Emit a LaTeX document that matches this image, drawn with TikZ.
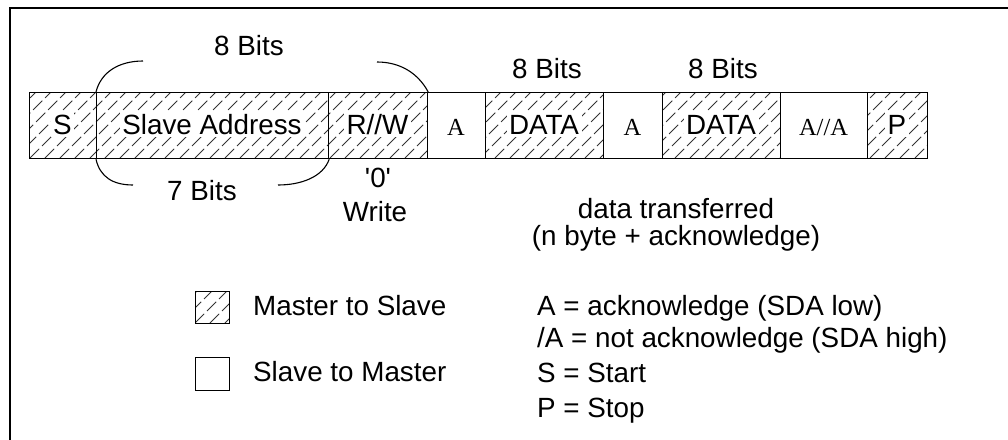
\documentclass[tikz,border=0pt]{standalone}
\usepackage{fontspec}
\setmainfont{Liberation Sans}
\newfontfamily\serifAfont{Liberation Serif}
\newcommand\hatchrect[4]{%
  \begin{scope}
    \clip (#1,#2) rectangle (#3,#4);
    \foreach \xx in {-90,-75,...,1000} {\draw[hatchline] (\xx,#4) -- ++(90,-90);}
  \end{scope}}
\begin{document}
\begin{tikzpicture}[x=1pt,y=-1pt,
  hatchline/.style={draw=black!80, line width=0.85pt, dash pattern=on 13pt off 4pt},
  cell/.style={draw=black, line width=1.2pt, rectangle, inner sep=0pt, anchor=north west, minimum height=66pt},
  lbl/.style={font=\fontsize{27.8}{34}\selectfont, inner sep=0pt, anchor=base},
  boxlbl/.style={lbl, fill=white, inner sep=2.5pt},
  slbl/.style={font=\serifAfont\fontsize{24.5}{28}\selectfont, inner sep=0pt, anchor=base},
  brace/.style={draw=black, line width=1.1pt},
  legbox/.style={draw=black, line width=1.2pt, rectangle, inner sep=0pt, anchor=north west, minimum width=34pt, minimum height=32pt}
]
\useasboundingbox (0,0) rectangle (1008,439);
% frame
\draw[line width=2pt] (1012,7.5) -- (10,7.5) -- (10,445);

% hatching
\hatchrect{29}{92}{96}{158}
\hatchrect{96}{92}{328}{158}
\hatchrect{328}{92}{427}{158}
\hatchrect{485}{92}{603}{158}
\hatchrect{662}{92}{780}{158}
\hatchrect{867}{92}{927}{158}
\hatchrect{195}{291}{229}{323}

% labels in cells
\node[boxlbl] (ts) at (62.5,134) {S};
\node[boxlbl] (tsa) at (212,134) {Slave Address};
\node[boxlbl] (trw) at (377.5,134) {R//W};
\node[slbl] (ta1) at (456,135) {A};
\node[boxlbl] (td1) at (544,134) {DATA};
\node[slbl] (ta2) at (632.5,135) {A};
\node[boxlbl] (td2) at (721,134) {DATA};
\node[slbl] (ta3) at (823.5,135) {A//A};
\node[boxlbl] (tp) at (897,134) {P};

% cells
\node[cell, minimum width=67pt] (s) at (29,92) {};
\node[cell, minimum width=232pt] (sa) at (96,92) {};
\node[cell, minimum width=99pt] (rw) at (328,92) {};
\node[cell, minimum width=58pt] (a1) at (427,92) {};
\node[cell, minimum width=118pt] (d1) at (485,92) {};
\node[cell, minimum width=59pt] (a2) at (603,92) {};
\node[cell, minimum width=118pt] (d2) at (662,92) {};
\node[cell, minimum width=87pt] (a3) at (780,92) {};
\node[cell, minimum width=60pt] (p) at (867,92) {};

% braces
\draw[brace] (sa.north west) .. controls (101,72) and (119,61) .. (143,61);
\draw[brace] (377,62) .. controls (400,62) and (418,73) .. (rw.north east);
\draw[brace] (sa.south west) .. controls (100,177) and (113,185) .. (133,185);
\draw[brace] (sa.south east) .. controls (323,177) and (301,185) .. (278,185);

% texts above/below
\node[lbl] (b8a) at (249,55) {8 Bits};
\node[lbl] (b8b) at (547,78) {8 Bits};
\node[lbl] (b8c) at (723,78) {8 Bits};
\node[lbl] (b7) at (202,200) {7 Bits};
\node[lbl] (zero) at (378,187) {\textquotesingle 0\textquotesingle};
\node[lbl] (wr) at (375,221) {Write};
\node[lbl] (dt1) at (676,218) {data transferred};
\node[lbl] (dt2) at (676,245) {(n byte + acknowledge)};

% legend
\node[legbox] (lh) at (195,291) {};
\node[legbox, minimum height=33pt] (le) at (195,357) {};
\node[lbl, anchor=base west] (lm) at (253,315) {Master to Slave};
\node[lbl, anchor=base west] (ls) at (253,381) {Slave to Master};
\node[lbl, anchor=base west] (k1) at (537,315) {A = acknowledge (SDA low)};
\node[lbl, anchor=base west] (k2) at (537,347) {/A = not acknowledge (SDA high)};
\node[lbl, anchor=base west] (k3) at (537,382) {S = Start};
\node[lbl, anchor=base west] (k4) at (537,417) {P = Stop};
\end{tikzpicture}
\end{document}
